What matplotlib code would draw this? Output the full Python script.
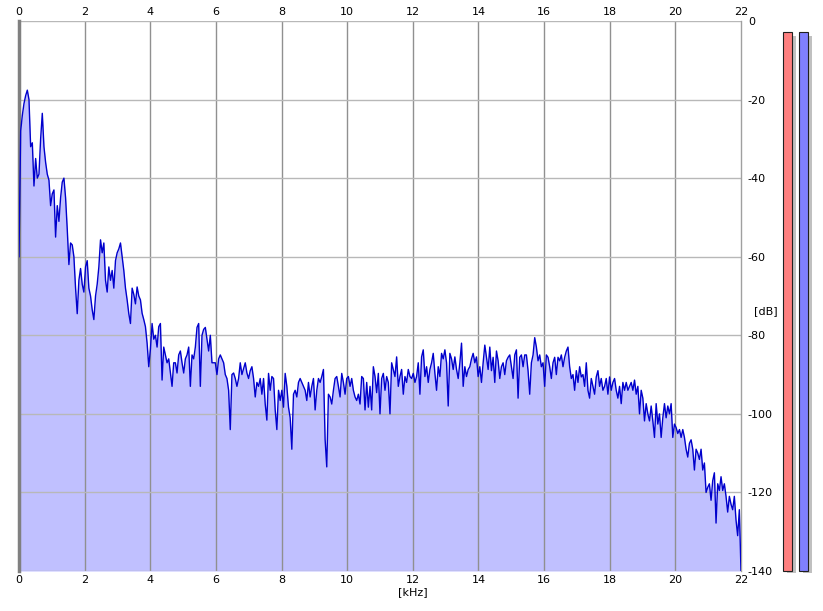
import numpy as np
import matplotlib
matplotlib.use("Agg")
import matplotlib.pyplot as plt
from matplotlib.patches import Rectangle

plt.rcParams["axes.unicode_minus"] = False

# spectrum level in dB, evenly spaced from 0 to 22 kHz
level_low = [
    -60, -28, -24, -21, -19, -17.6, -20, -32, -31, -42, -35, -40, -39, -30, -23.5, -32,
    -36, -39, -40.5, -47, -44, -43, -55, -47, -51, -45, -41, -40, -45, -53, -62, -56.5,
    -57, -60, -68, -74.5, -66, -63, -67, -69, -62.6, -61, -68, -70, -73.5, -76, -70,
    -67, -62.6, -55.7, -59, -56.5, -66, -69, -62.6, -66, -63.5, -68, -61, -59, -58,
    -56.5, -60, -63.5, -68, -71, -74.5, -77, -68, -69.6,
]
level_mid1 = [
    -72, -67.7, -70, -71, -74.4, -76, -77.8, -82, -88, -83.5, -77, -81, -80, -83, -77.8,
    -77, -91.4, -83, -85, -87, -86, -89.6, -93, -87, -87, -89.6, -85, -84, -87, -89.6,
    -86, -85, -83, -93, -85, -86, -83, -78, -77, -93, -80, -78.5, -78, -81, -84, -80,
    -87, -87, -87, -90, -86, -85, -86, -87, -90, -91, -94, -104, -90, -89.6, -91, -93,
    -91, -87, -90, -88.5, -87, -89.6, -91,
]
level_mid2 = [
    -89, -88, -91, -95.7, -92, -93, -91, -95, -91, -97.5, -101.6, -89.7, -94, -90.5, -91,
    -99, -104, -94, -96.6, -94, -98.3, -89.7, -93, -98.3, -101, -109, -95, -94, -95.7,
    -92, -91, -92, -93, -94, -96.6, -92, -95.7, -93, -91, -99, -94, -91, -92, -90.5,
    -88.7, -106.5, -113.5, -95, -95.7, -97.5, -94, -91, -90.5, -93, -95.7, -89.7, -92,
    -95, -91, -90.5, -93, -91, -94, -95.7, -96.6, -95, -97.5, -90.5, -91, -99, -92, -98.3,
]
level_mid3 = [
    -93, -99, -88, -90.5, -94.6, -89.7, -100, -91, -89.7, -94, -90.5, -92, -100, -87,
    -88.7, -90.5, -85.5, -93, -90.5, -88.7, -95, -90.5, -92, -88.7, -90.5, -91, -89.7,
    -92, -90.5, -87, -95, -85.5, -83.7, -90.5, -88, -92, -88.7, -87, -84.6, -89.7, -94,
    -88, -90.5, -84.6, -86, -83.7, -87, -98, -84.6, -86, -88.7, -85.5, -88.7, -91, -87,
    -82, -93, -88, -90.5, -88.7, -88, -86, -84.6, -87, -85.5, -90.5, -88, -92, -87,
    -82.5, -85.5, -88.7,
]
level_high1 = [
    -83, -89, -85.6, -92, -84, -86.5, -91, -88, -87, -90, -86.5, -85.6, -85, -88, -91,
    -85, -83.7, -96, -85.6, -85, -88, -85, -85, -89, -95, -87, -85, -80.6, -83, -86.5,
    -85, -88, -87, -93, -85, -85.6, -88, -91, -87, -85.6, -90, -85.6, -86.5, -85, -88,
    -85.6, -84, -83, -88, -91, -90, -94, -89, -92, -88, -90.6, -90, -93, -87, -94, -96,
    -91, -93, -95, -90.6, -89, -93, -91, -94, -93, -91, -95, -90.6, -94, -92, -91, -94,
    -96,
]
level_high2 = [
    -93, -97.4, -92, -94, -92, -94, -93, -92, -94, -91.4, -95, -93, -100, -94, -96,
    -101.8, -97.4, -100, -101.8, -98, -101.8, -106, -97.4, -102.6, -100, -106, -101,
    -97.4, -101, -98, -100, -97.4, -106, -102.6, -103.5, -105, -104, -106, -104, -106,
    -109, -111, -107.5, -106.6, -109, -114.3, -109, -110, -111.6, -109, -114.3, -112.5,
    -120, -118.7, -117.8, -122, -117, -115, -127.8, -117.8, -119.5, -116, -119.5, -117.8,
    -121, -125, -121, -123, -124.4, -121, -127, -131, -124.4, -140,
]

level_db = np.array(level_low + level_mid1 + level_mid2 + level_mid3 + level_high1 + level_high2)
freq_khz = np.linspace(0, 22, len(level_db))

x_ticks = list(range(0, 23, 2))
y_ticks = list(range(0, -141, -20))

W, H = 823, 611
fig = plt.figure(figsize=(W / 100, H / 100), dpi=100)
ax = fig.add_axes([19 / W, 40 / H, 722 / W, 550 / H])

ax.fill_between(freq_khz, level_db, -140, color="#c0c0ff", linewidth=0, zorder=1)
for x in x_ticks[1:-1]:
    ax.axvline(x, color="#909090", linewidth=1, zorder=2)
for y in y_ticks:
    ax.axhline(y, color="#b8b8b8", linewidth=1, zorder=2)
ax.plot(freq_khz, level_db, color="#0000cc", linewidth=1, zorder=3)

ax.set_xlim(0, 22)
ax.set_ylim(-140, 0)
ax.set_xticks(x_ticks)
ax.set_yticks(y_ticks)
ax.tick_params(length=0, labelsize=8, pad=3)
ax.tick_params(axis="x", top=True, labeltop=True)
ax.yaxis.tick_right()
ax.tick_params(axis="y", pad=5)

for side in ["top", "bottom"]:
    ax.spines[side].set_visible(False)
ax.spines["left"].set_color("#808080")
ax.spines["left"].set_linewidth(2.5)
ax.spines["right"].set_color("#a0a0a0")
ax.spines["right"].set_linewidth(1)

fig.text(766 / W, 1 - 311 / H, "[dB]", fontsize=8, ha="center", va="center")
fig.text(413 / W, 1 - 592 / H, "[kHz]", fontsize=8, ha="center", va="center")

# level meters on the right, drawn in pixel units
meter = fig.add_axes([0, 0, 1, 1], zorder=-1)
meter.set_xlim(0, W)
meter.set_ylim(H, 0)
meter.axis("off")
for x0, col in [(783, "#ff8080"), (799, "#8080ff")]:
    meter.add_patch(Rectangle((x0 + 4, 36), 9.5, 537, facecolor="#c0c0c0", edgecolor="none"))
    meter.add_patch(Rectangle((x0, 32), 9.5, 539, facecolor=col, edgecolor="#202020", linewidth=0.8))

fig.savefig("out.png", dpi=100)
